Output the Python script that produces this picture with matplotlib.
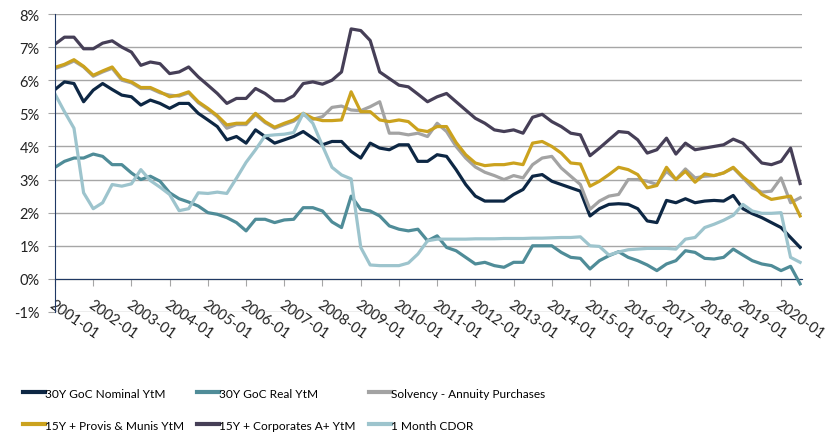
import numpy as np
import pandas as pd
import matplotlib
matplotlib.use("Agg")
import matplotlib.pyplot as plt
import matplotlib.dates as mdates
from matplotlib.ticker import FuncFormatter

plt.rcParams['font.family'] = ['Lato', 'DejaVu Sans']

# quarterly readings, 2001-01 .. 2020-07
dates = pd.date_range('2001-01-01', periods=79, freq='3MS')

goc_nominal = [5.72, 5.95, 5.9, 5.35, 5.7, 5.9, 5.72, 5.55, 5.5, 5.25, 5.4, 5.3, 5.15, 5.3, 5.3, 5.0,
               4.8, 4.6, 4.2, 4.3, 4.1, 4.5, 4.3, 4.1, 4.2, 4.3,
               4.45, 4.25, 4.05, 4.15, 4.15, 3.85, 3.65, 4.1, 3.95, 3.9, 4.05, 4.05, 3.55, 3.55,
               3.75, 3.7, 3.3, 2.85, 2.5, 2.35, 2.35, 2.35, 2.55, 2.7, 3.1, 3.15, 2.95, 2.85, 2.75,
               2.65, 1.9, 2.12, 2.25, 2.27, 2.25, 2.12, 1.75, 1.7, 2.37, 2.3, 2.42, 2.3, 2.35, 2.37,
               2.35, 2.52, 2.12, 1.97, 1.85, 1.7, 1.55, 1.25, 0.95]

goc_real = [3.37, 3.55, 3.65, 3.65, 3.77, 3.7, 3.45, 3.45, 3.2, 3.0, 3.1, 2.95, 2.6, 2.42, 2.32, 2.2,
            2.0, 1.95, 1.85, 1.7, 1.45, 1.8, 1.8, 1.7, 1.78, 1.8,
            2.15, 2.15, 2.05, 1.72, 1.55, 2.5, 2.1, 2.05, 1.9, 1.6, 1.5, 1.45, 1.5, 1.15,
            1.3, 0.95, 0.85, 0.65, 0.45, 0.5, 0.4, 0.35, 0.5, 0.5, 1.0, 1.0, 1.0, 0.8, 0.65,
            0.62, 0.3, 0.55, 0.7, 0.82, 0.65, 0.55, 0.42, 0.25, 0.45, 0.55, 0.85, 0.8, 0.62, 0.6,
            0.65, 0.9, 0.72, 0.55, 0.45, 0.4, 0.25, 0.38, -0.15]

solvency = [6.35, 6.45, 6.58, 6.4, 6.12, 6.25, 6.36, 6.0, 5.92, 5.75, 5.75, 5.62, 5.55, 5.52, 5.62, 5.32,
            5.12, 4.9, 4.55, 4.66, 4.66, 4.96, 4.72, 4.55, 4.66, 4.76,
            4.96, 4.82, 4.9, 5.18, 5.22, 5.1, 5.08, 5.2, 5.35, 4.4, 4.4, 4.35, 4.4, 4.3,
            4.7, 4.45, 4.0, 3.65, 3.38, 3.22, 3.12, 3.0, 3.12, 3.05, 3.45, 3.65, 3.7, 3.35, 3.1,
            2.85, 2.1, 2.35, 2.5, 2.55, 3.0, 3.0, 2.95, 2.85, 3.25, 3.0, 3.32, 3.05, 3.1, 3.12,
            3.2, 3.35, 3.05, 2.75, 2.62, 2.65, 3.05, 2.3, 2.45]

provis_munis = [6.39, 6.48, 6.62, 6.42, 6.15, 6.28, 6.4, 6.04, 5.95, 5.78, 5.78, 5.65, 5.5, 5.55, 5.65, 5.35,
                5.15, 4.93, 4.65, 4.7, 4.7, 5.0, 4.75, 4.58, 4.7, 4.8,
                5.0, 4.85, 4.78, 4.78, 4.8, 5.65, 5.05, 5.05, 4.8, 4.75, 4.8, 4.75, 4.5, 4.45,
                4.6, 4.6, 4.12, 3.75, 3.5, 3.42, 3.45, 3.45, 3.5, 3.45, 4.1, 4.15, 4.0, 3.8, 3.5,
                3.47, 2.8, 2.95, 3.15, 3.37, 3.3, 3.15, 2.75, 2.82, 3.37, 3.0, 3.25, 2.92, 3.17, 3.12,
                3.2, 3.37, 3.08, 2.85, 2.55, 2.4, 2.45, 2.5, 1.9]

corporates = [7.09, 7.3, 7.3, 6.95, 6.95, 7.12, 7.19, 7.0, 6.85, 6.45, 6.55, 6.5, 6.2, 6.25, 6.4, 6.1,
              5.85, 5.6, 5.3, 5.45, 5.45, 5.75, 5.6, 5.38, 5.38, 5.53,
              5.9, 5.95, 5.88, 6.0, 6.25, 7.55, 7.5, 7.2, 6.25, 6.05, 5.85, 5.8, 5.58, 5.35,
              5.5, 5.6, 5.35, 5.1, 4.85, 4.7, 4.5, 4.45, 4.5, 4.4, 4.88, 4.97, 4.75, 4.6, 4.4,
              4.35, 3.72, 3.95, 4.2, 4.45, 4.42, 4.2, 3.8, 3.9, 4.25, 3.77, 4.1, 3.9, 3.95, 4.0,
              4.05, 4.22, 4.1, 3.8, 3.5, 3.45, 3.55, 3.95, 2.88]

cdor = [5.58, 5.05, 4.55, 2.6, 2.12, 2.3, 2.85, 2.8, 2.87, 3.3, 2.97, 2.77, 2.55, 2.06, 2.12, 2.6,
        2.58, 2.62, 2.58, 3.04, 3.52, 3.9, 4.32, 4.35, 4.37, 4.42,
        5.0, 4.7, 4.02, 3.37, 3.14, 3.02, 0.95, 0.42, 0.4, 0.4, 0.4, 0.48, 0.75, 1.15,
        1.2, 1.2, 1.2, 1.2, 1.21, 1.21, 1.21, 1.22, 1.22, 1.22, 1.23, 1.23, 1.24, 1.25, 1.25,
        1.27, 1.0, 0.98, 0.72, 0.81, 0.88, 0.9, 0.92, 0.92, 0.92, 0.9, 1.2, 1.25, 1.55, 1.65,
        1.77, 1.92, 2.25, 2.05, 1.98, 1.98, 2.0, 0.65, 0.5]

labels = ["30Y GoC Nominal YtM", "30Y GoC Real YtM", "Solvency - Annuity Purchases",
          "15Y + Provis & Munis YtM", "15Y + Corporates A+ YtM", "1 Month CDOR"]
series = [goc_nominal, goc_real, solvency, provis_munis, corporates, cdor]
colors = ['#0D2744', '#4F8C98', '#A3A3A3', '#CBA21E', '#463F57', '#9DC4CD']

fig = plt.figure(figsize=(8.39, 4.35), dpi=100)
ax = fig.add_axes([0.0656, 0.2805, 0.8904, 0.685])

lines = []
for vals, lab, col in zip(series, labels, colors):
    l, = ax.plot(dates, np.array(vals) / 100.0, color=col, lw=2.3, label=lab,
                 solid_joinstyle='round')
    lines.append(l)

ax.set_ylim(-0.01, 0.08)
ax.set_yticks(np.arange(-0.01, 0.0801, 0.01))
ax.yaxis.set_major_formatter(FuncFormatter(lambda v, p: "%d%%" % round(v * 100)))
ax.set_xlim(pd.Timestamp('2001-01-01'), pd.Timestamp('2020-07-20'))
ax.xaxis.set_major_locator(mdates.YearLocator(1, month=1, day=1))
ax.xaxis.set_major_formatter(mdates.DateFormatter('%Y-%m'))

ax.grid(axis='y', color='#A6A6A6', lw=1)
ax.set_axisbelow(True)
for s in ['top', 'right']:
    ax.spines[s].set_visible(False)
ax.spines['bottom'].set_position(('data', 0))
ax.spines['bottom'].set_color('#1F3864')
ax.spines['left'].set_color('#1F3864')
ax.spines['bottom'].set_zorder(1)

ax.tick_params(axis='y', length=5, color='#A6A6A6', labelsize=10.5, pad=6, labelcolor='#222222')
ax.tick_params(axis='x', length=5, color='#A6A6A6', labelsize=10.5, pad=8, labelcolor='#222222')
for t in ax.get_xticklabels():
    t.set_rotation(-35)
    t.set_ha('left')
    t.set_va('top')
    t.set_rotation_mode('anchor')

# one legend per column so the column starts match
col_x = [23, 197, 369]
for c in range(3):
    idx = [c, c + 3]
    leg = fig.legend([lines[i] for i in idx], [labels[i] for i in idx], ncol=1,
                     loc='lower left', bbox_to_anchor=(col_x[c] / 839.0, 0.008), frameon=False,
                     fontsize=8.6, handlelength=1.8, handletextpad=0.05,
                     labelspacing=1.75, borderpad=0, borderaxespad=0)
    for h in leg.get_lines():
        h.set_linewidth(3)

plt.savefig('out.png', dpi=100)
